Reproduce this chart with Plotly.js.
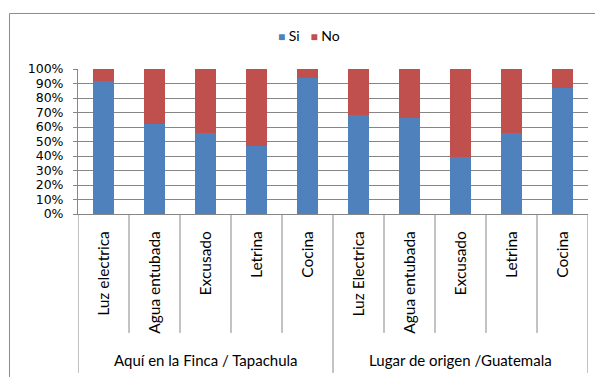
<!DOCTYPE html>
<html>
<head>
<meta charset="utf-8">
<script src="https://cdn.plot.ly/plotly-3.0.1.min.js"></script>
<style>
  html, body { margin: 0; padding: 0; background: #fff; }
  #chart { width: 595px; height: 377px; }
</style>
</head>
<body>
<div id="chart"></div>
<script>
// Housing services: share of "Si" / "No" answers by place
const groupNames = ["Aquí en la Finca / Tapachula", "Lugar de origen /Guatemala"];
const groupOfItem = [0, 0, 0, 0, 0, 1, 1, 1, 1, 1];
const items = [
  "Luz electrica", "Agua entubada", "Excusado", "Letrina", "Cocina",
  "Luz Electrica", "Agua entubada", "Excusado", "Letrina", "Cocina"
];
const siValues = [92, 62, 56, 47, 94, 68, 66, 39, 56, 87];
const noValues = [8, 38, 44, 53, 6, 32, 34, 61, 44, 13];
const yTicks = [0, 10, 20, 30, 40, 50, 60, 70, 80, 90, 100];
const yTickLabels = ["0%", "10%", "20%", "30%", "40%", "50%", "60%", "70%", "80%", "90%", "100%"];

const FONT = "Lato, 'Liberation Sans', sans-serif";
const TICK_FONT = "'DejaVu Sans', sans-serif";
const LINE = "#868686";
const COLORS = { Si: "#4F81BD", No: "#C0504D" };

const pos = items.map((_, i) => i);

const traces = [
  { type: "bar", name: "Si", x: pos, y: siValues, width: 0.4,
    marker: { color: COLORS.Si }, hoverinfo: "skip" },
  { type: "bar", name: "No", x: pos, y: noValues, width: 0.4,
    marker: { color: COLORS.No }, hoverinfo: "skip" }
];

// Divider lines below the axis: short ones between items, long ones at group edges
const shapes = [];
for (let k = 0; k <= items.length; k++) {
  const left = groupOfItem[k - 1], right = groupOfItem[k];
  const edge = (left === undefined || right === undefined || left !== right);
  shapes.push({
    type: "line", xref: "x", yref: "y domain",
    x0: k - 0.5, x1: k - 0.5,
    y0: 0, y1: edge ? -1.096 : -0.82,
    line: { color: LINE, width: 1 }
  });
}
// Outer chart frame
shapes.push({
  type: "rect", xref: "paper", yref: "paper",
  x0: -0.1343, x1: 1.2, y0: -1.3, y1: 1.3828,
  line: { color: "#8c8c8c", width: 1 }, layer: "below"
});

// Group labels centred under their items
const annotations = groupNames.map((name, g) => {
  const idx = pos.filter(i => groupOfItem[i] === g);
  const centre = (idx[0] + idx[idx.length - 1]) / 2;
  return {
    text: name, xref: "x", yref: "paper", x: centre, y: -1.007,
    xanchor: "center", yanchor: "middle", showarrow: false,
    font: { family: FONT, size: 15, color: "#000" }
  };
});

// Legend line: coloured square + series name
const legendText = traces.map(t =>
  `<span style="color:${t.marker.color}; font-size:12px">■</span> ${t.name}`
).join("   ");
annotations.push({
  text: legendText, xref: "paper", yref: "paper", x: 0.452, y: 1.2276,
  xanchor: "center", yanchor: "middle", showarrow: false,
  font: { family: FONT, size: 14, color: "#000" }
});

const layout = {
  width: 595, height: 377,
  margin: { l: 78, r: 7, t: 69, b: 163 },
  paper_bgcolor: "#fff", plot_bgcolor: "#fff",
  barmode: "stack",
  font: { family: FONT, size: 14, color: "#000" },
  showlegend: false,
  xaxis: {
    range: [-0.5, items.length - 0.5],
    tickvals: pos, ticktext: items,
    tickangle: -90, ticklabelstandoff: 10,
    ticks: "", showgrid: false, zeroline: false,
    showline: true, linecolor: LINE, linewidth: 1,
    tickfont: { family: FONT, size: 15.5, color: "#000" }
  },
  yaxis: {
    range: [0, 100], tickvals: yTicks, ticktext: yTickLabels,
    showgrid: true, gridcolor: LINE, gridwidth: 1,
    showline: true, linecolor: LINE, linewidth: 1,
    ticks: "outside", ticklen: 4, tickcolor: LINE,
    ticklabelstandoff: 7,
    zeroline: false,
    tickfont: { family: TICK_FONT, size: 12.5, color: "#000" }
  },
  shapes: shapes,
  annotations: annotations
};

Plotly.newPlot("chart", traces, layout, { displayModeBar: false, staticPlot: true });
</script>
</body>
</html>
